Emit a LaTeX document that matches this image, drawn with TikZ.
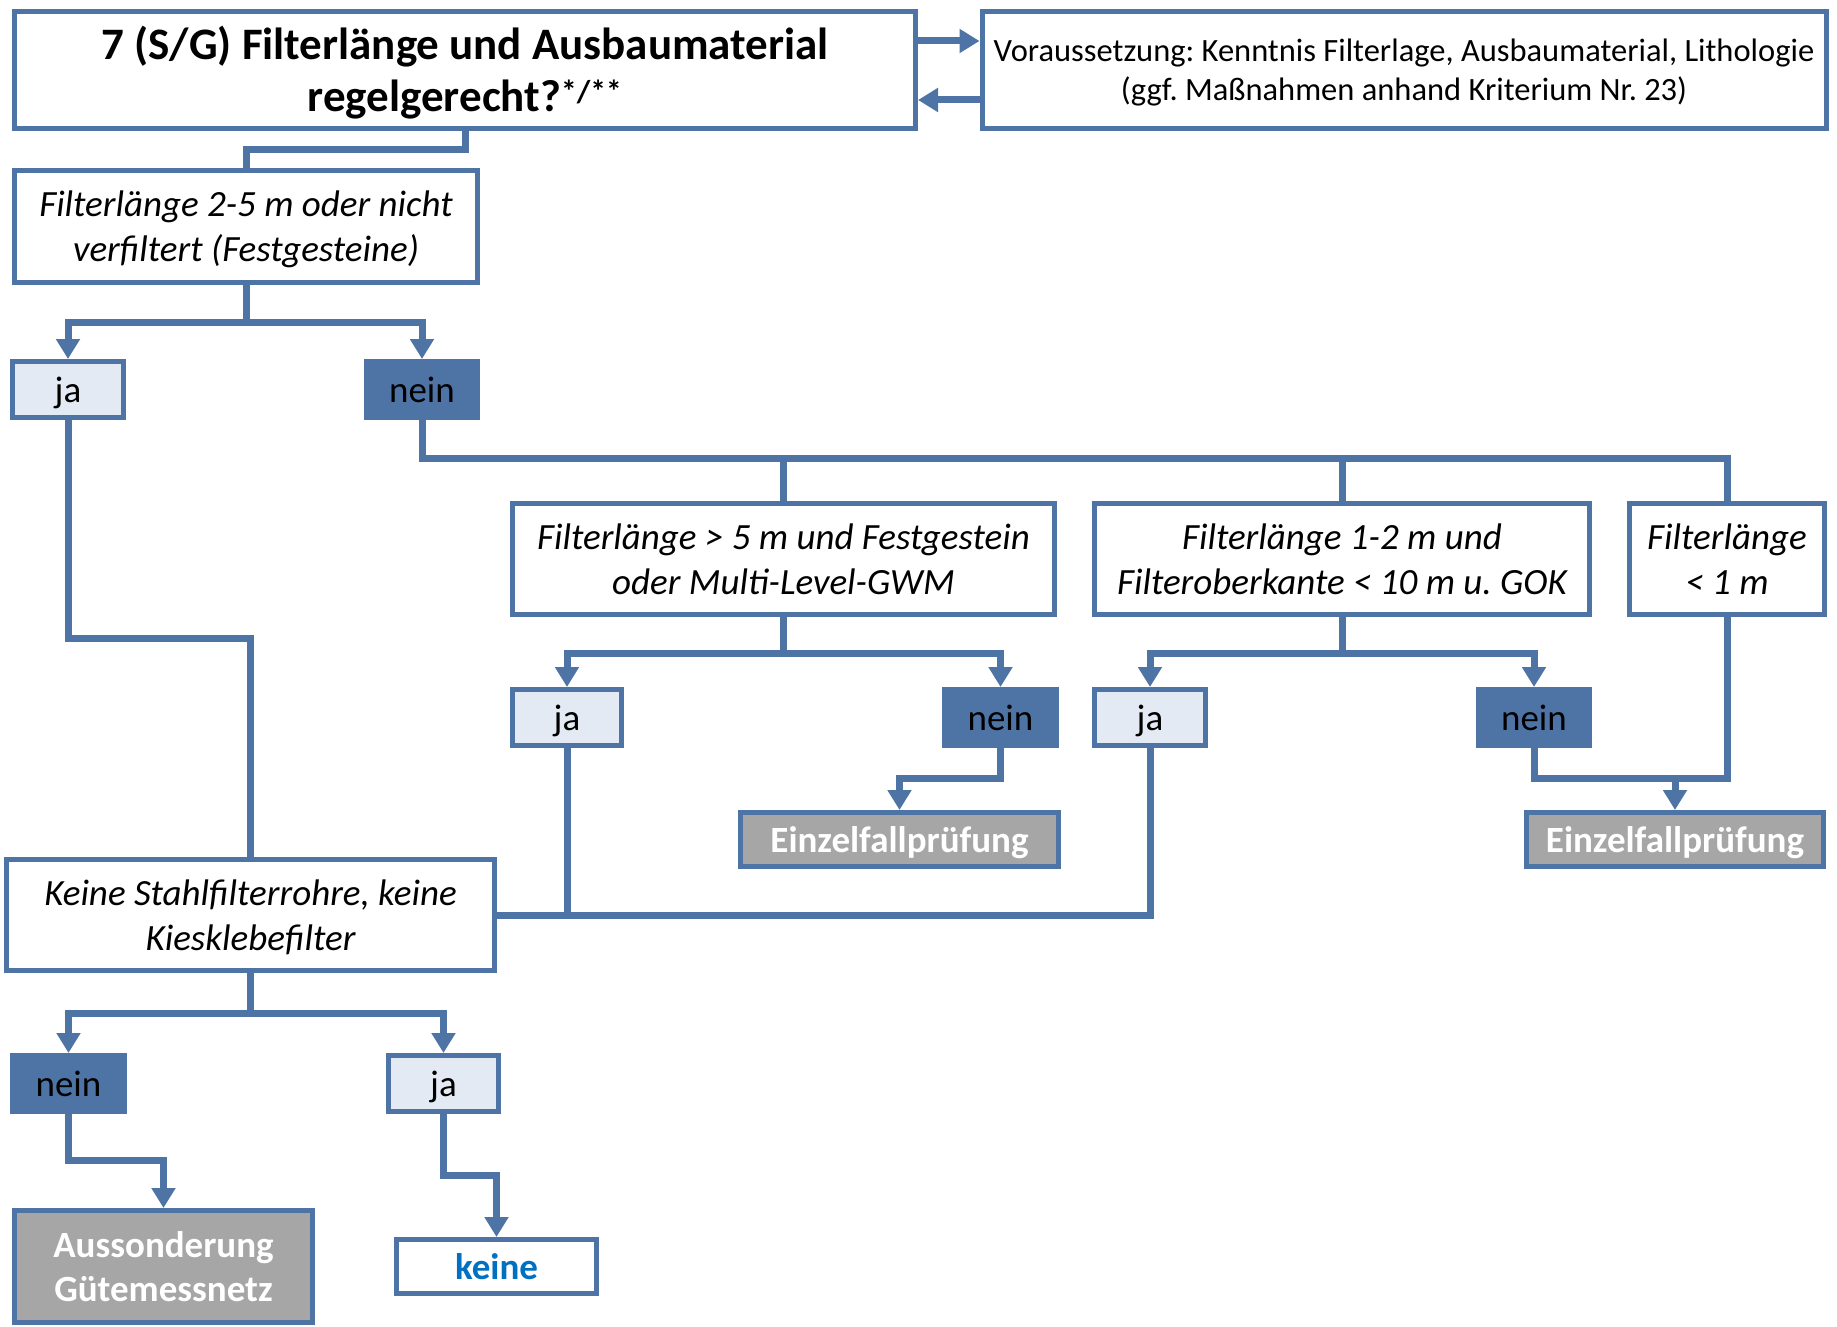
\documentclass[tikz,border=0pt]{standalone}
\usepackage{fontspec}
\setmainfont{Carlito}
\frenchspacing
\usetikzlibrary{arrows.meta}
\definecolor{lineblue}{HTML}{4E74A6}
\definecolor{lightfill}{HTML}{E3EAF4}
\definecolor{greyfill}{HTML}{A6A6A6}
\definecolor{textblue}{HTML}{0070C0}
\newcommand\mytopstrut{\rule{0pt}{0.95em}}
\newcommand\mybotstrut{\rule[-0.26em]{0pt}{0.26em}}
\begin{document}
\begin{tikzpicture}[x=1pt,y=-1pt,
  box/.style={draw=lineblue,line width=5pt,fill=white,inner sep=0pt,align=center,font=\fontsize{37}{45}\selectfont},
  qbox/.style={box,font=\fontsize{37}{45}\selectfont\itshape},
  jabox/.style={box,fill=lightfill,minimum width=#1,minimum height=56pt},
  neinbox/.style={box,fill=lineblue,minimum width=#1,minimum height=56pt},
  endbox/.style={box,fill=greyfill,text=white,font=\fontsize{37}{44}\selectfont\bfseries},
  conn/.style={draw=lineblue,line width=7pt,line join=miter},
  arr/.style={conn,-{Triangle[width=23pt,length=20pt]}}]
\useasboundingbox (0,0) rectangle (1837,1327);

% nodes
\node[box,minimum width=901pt,minimum height=117pt,font=\fontsize{45}{52}\selectfont\bfseries] (title) at (465,70)
  {\mytopstrut 7 (S/G) Filterlänge und Ausbaumaterial\\regelgerecht?\textsuperscript{*/**}\mybotstrut};
\node[box,minimum width=844pt,minimum height=117pt,font=\fontsize{32.5}{39}\selectfont] (vor) at (1404,70)
  {\mytopstrut Voraussetzung: Kenntnis Filterlage, Ausbaumaterial, Lithologie\\(ggf. Maßnahmen anhand Kriterium Nr. 23)\mybotstrut};
\node[qbox,minimum width=463pt,minimum height=112pt] (f25) at (246,226.5)
  {\mytopstrut Filterlänge 2-5 m oder nicht\\verfiltert (Festgesteine)\mybotstrut};
\node[jabox=111pt] (ja1) at (68,389.5) {\mytopstrut ja\mybotstrut};
\node[neinbox=111pt] (nein1) at (422,389.5) {\mytopstrut nein\mybotstrut};
\node[qbox,minimum width=542pt,minimum height=111pt] (A) at (783.5,559)
  {\mytopstrut Filterlänge > 5 m und Festgestein\\oder Multi-Level-GWM\mybotstrut};
\node[qbox,minimum width=495pt,minimum height=111pt] (B) at (1342,559)
  {\mytopstrut Filterlänge 1-2 m und\\Filteroberkante < 10 m u. GOK\mybotstrut};
\node[qbox,minimum width=195pt,minimum height=111pt] (C) at (1727,559)
  {\mytopstrut Filterlänge\\< 1 m\mybotstrut};
\node[jabox=109pt] (ja2) at (567,717.5) {\mytopstrut ja\mybotstrut};
\node[neinbox=112pt] (nein2) at (1000.5,717.5) {\mytopstrut nein\mybotstrut};
\node[jabox=111pt] (ja3) at (1150,717.5) {\mytopstrut ja\mybotstrut};
\node[neinbox=111pt] (nein3) at (1534,717.5) {\mytopstrut nein\mybotstrut};
\node[endbox,minimum width=318pt,minimum height=54pt] (E1) at (899.5,839.5) {\mytopstrut Einzelfallprüfung\mybotstrut};
\node[endbox,minimum width=297pt,minimum height=54pt] (E2) at (1675,839.5) {\mytopstrut Einzelfallprüfung\mybotstrut};
\node[qbox,minimum width=488pt,minimum height=111pt] (K) at (250.5,915)
  {\mytopstrut Keine Stahlfilterrohre, keine\\Kiesklebefilter\mybotstrut};
\node[neinbox=112pt] (nein4) at (68.5,1083.5) {\mytopstrut nein\mybotstrut};
\node[jabox=110pt] (ja4) at (443.5,1083.5) {\mytopstrut ja\mybotstrut};
\node[endbox,minimum width=298pt,minimum height=112pt] (aus) at (163.5,1266.5) {\mytopstrut Aussonderung\\Gütemessnetz\mybotstrut};
\node[box,minimum width=200pt,minimum height=54pt,text=textblue,font=\fontsize{37}{44}\selectfont\bfseries] (keine) at (496.5,1266.5) {\mytopstrut keine\mybotstrut};

% connectors
\draw[arr] (title.east |- 0,41) -- (vor.west |- 0,41);
\draw[arr] (vor.west |- 0,100) -- (title.east |- 0,100);
\draw[conn] (title.south) |- (f25.north |- 0,150) -- (f25.north);

\draw[conn] (f25.south) -- (f25.south |- 0,322);
\draw[arr] (f25.south |- 0,322) -| (ja1.north);
\draw[arr] (f25.south |- 0,322) -| (nein1.north);

\draw[conn] (nein1.south) |- (C.north |- 0,458) -- (C.north);
\draw[conn] (A.north |- 0,458) -- (A.north);
\draw[conn] (B.north |- 0,458) -- (B.north);

\draw[conn] (A.south) -- (A.south |- 0,653);
\draw[arr] (A.south |- 0,653) -| (ja2.north);
\draw[arr] (A.south |- 0,653) -| (nein2.north);
\draw[arr] (nein2.south) |- (E1.north |- 0,778) -- (E1.north);

\draw[conn] (B.south) -- (B.south |- 0,653);
\draw[arr] (B.south |- 0,653) -| (ja3.north);
\draw[arr] (B.south |- 0,653) -| (nein3.north);
\draw[conn] (nein3.south) |- (C.south |- 0,778) -- (C.south);
\draw[arr] (E2.north |- 0,778) -- (E2.north);

\draw[conn] (ja1.south) |- (K.north |- 0,638) -- (K.north);
\draw[conn] (ja3.south) |- (K.east);
\draw[conn] (ja2.south) -- (ja2.south |- K.east);

\draw[conn] (K.south) -- (K.south |- 0,1013);
\draw[arr] (K.south |- 0,1013) -| (nein4.north);
\draw[arr] (K.south |- 0,1013) -| (ja4.north);
\draw[arr] (nein4.south) |- (aus.north |- 0,1160) -- (aus.north);
\draw[arr] (ja4.south) |- (keine.north |- 0,1175) -- (keine.north);
\end{tikzpicture}
\end{document}
